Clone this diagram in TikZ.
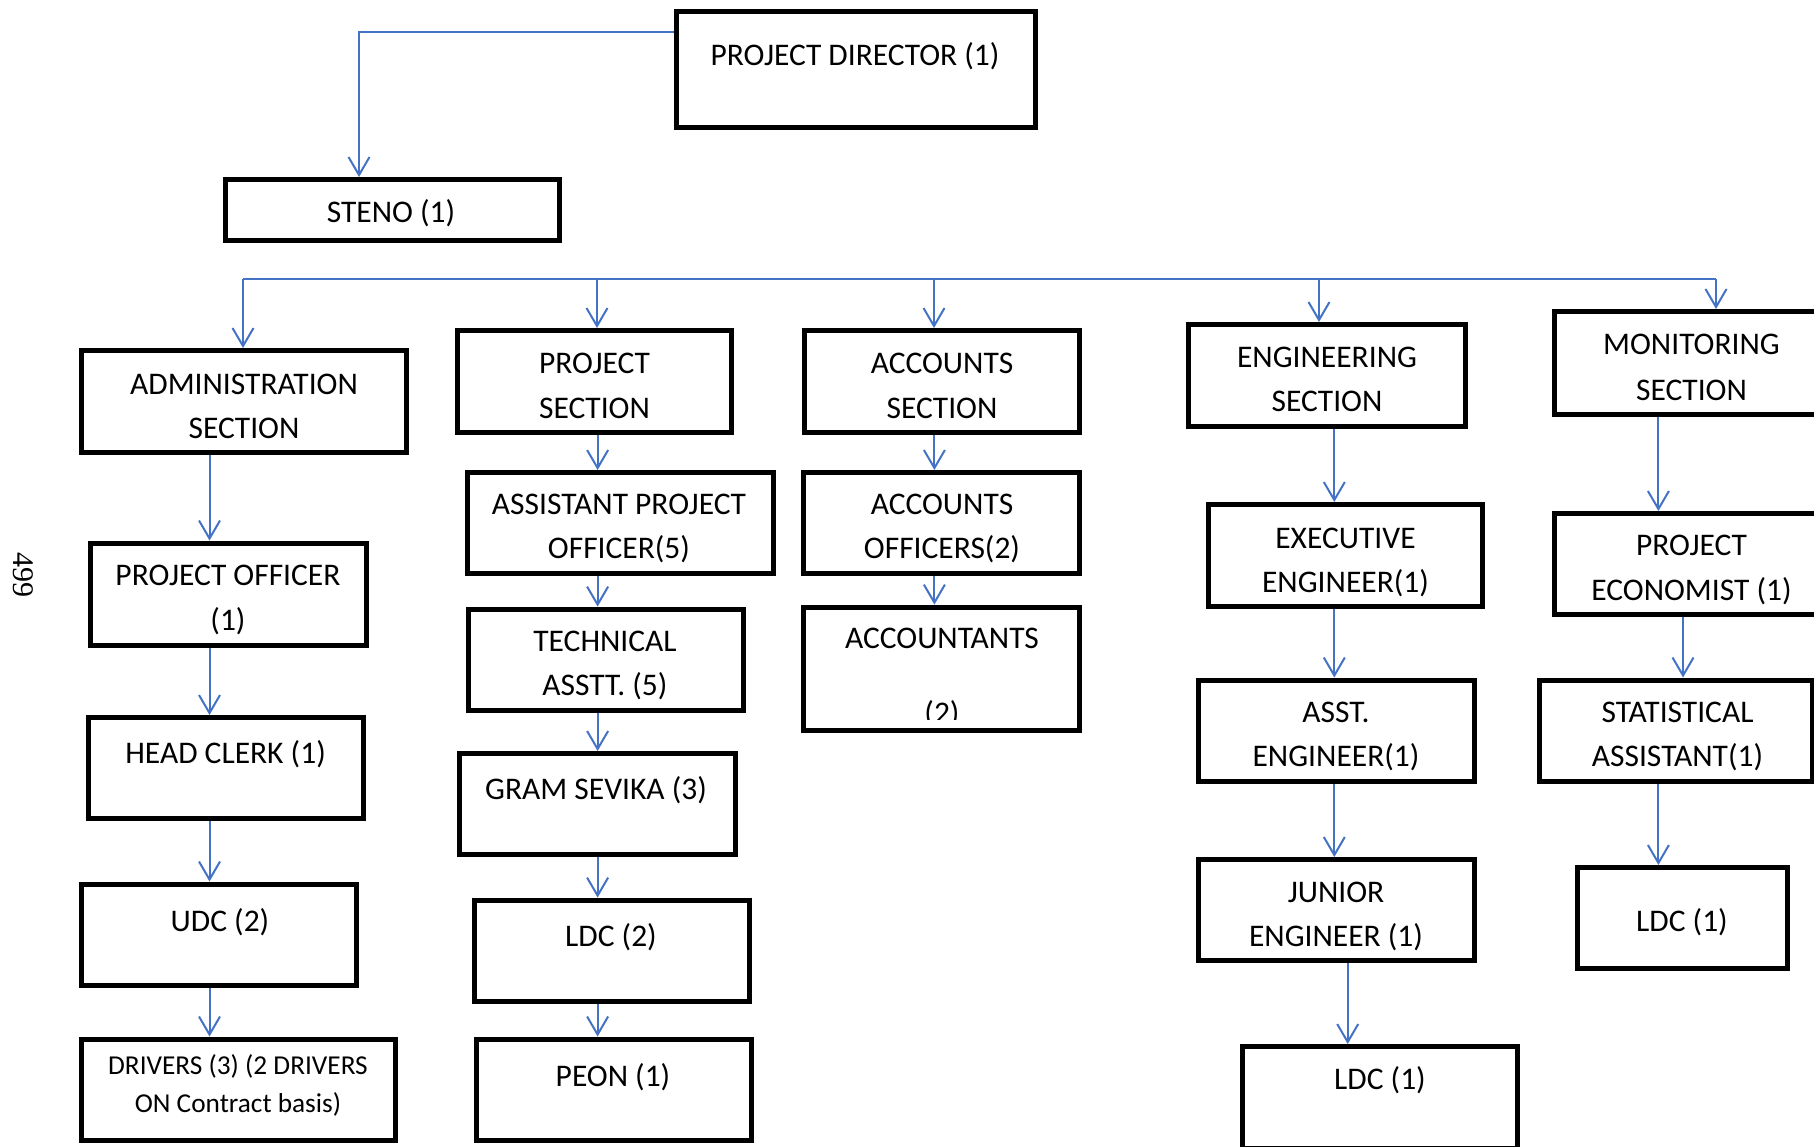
\documentclass[tikz,border=0pt]{standalone}
\usepackage{fontspec}
\setmainfont{Carlito}
\newfontfamily\pagenumfont{Liberation Serif}
\usetikzlibrary{arrows.meta}
\definecolor{linkblue}{RGB}{68,114,196}
\tikzset{
  box/.style={draw=black, line width=5pt, inner sep=0pt},
  lbl/.style={inner sep=0pt, text height=20pt, text depth=0pt, font=\fontsize{31.5}{38}\selectfont},
  smalllbl/.style={inner sep=0pt, text height=17.5pt, text depth=0pt, font=\fontsize{27.3}{33}\selectfont},
  link/.style={draw=linkblue, line width=2pt, -{Straight Barb[length=18pt,width=21pt]}},
  plainlink/.style={draw=linkblue, line width=2.2pt},
}
\newcommand\orgbox[5]{\node[box, minimum width=#4pt-5pt, minimum height=#5pt-5pt] (#1) at (#2,#3) {};}
\begin{document}
\begin{tikzpicture}[x=1pt,y=-1pt]
\useasboundingbox (0,0) rectangle (1814,1147);
\clip (0,0) rectangle (1814,1147);
\fill[white] (0,0) rectangle (1814,1147);

% page number
\node[font=\pagenumfont\fontsize{30}{36}\selectfont, rotate=-90, inner sep=0pt] (pagenum) at (23,575) {499};

% boxes: name, centre x, centre y, outer width, outer height
\orgbox{pd}{856}{69.5}{364}{121}
\orgbox{steno}{392.5}{210}{339}{66}
\orgbox{adm}{244}{401.5}{330}{107}
\orgbox{prj}{594.5}{381.5}{279}{107}
\orgbox{acs}{942}{381.5}{280}{107}
\orgbox{eng}{1327}{375.5}{282}{107}
\orgbox{mon}{1691.5}{363}{279}{108}
% administration column
\orgbox{po}{228.25}{594}{280.5}{107}
\orgbox{hc}{226}{768}{280}{106}
\orgbox{udc}{219}{934.75}{280}{106.5}
\orgbox{drv}{238.5}{1089.75}{319}{106.5}
% project column
\orgbox{apo}{620.5}{523}{311}{106}
\orgbox{ta}{606}{659.6}{280}{106}
\orgbox{gs}{597.3}{804}{280.6}{106}
\orgbox{ldcp}{612}{950.8}{280}{106.4}
\orgbox{peon}{614}{1089.75}{280}{106.5}
% accounts column
\orgbox{ao}{941.5}{523}{281}{106}
\orgbox{acc}{941.5}{668.8}{281}{128.4}
% engineering column
\orgbox{ee}{1345.25}{555.25}{279.5}{106.5}
\orgbox{ae}{1336.5}{730.75}{281}{106.5}
\orgbox{je}{1336.5}{910}{281}{106}
\orgbox{ldce}{1380}{1097.5}{280}{107}
% monitoring column
\orgbox{pe}{1691.5}{564}{279}{106}
\orgbox{sa}{1676}{730.75}{278}{106.5}
\orgbox{ldcm}{1682.25}{918}{215.5}{106}

% labels
\node[lbl] (t-pd) at (855,55.5) {PROJECT DIRECTOR (1)};
\node[lbl] (t-steno) at (391,213) {STENO (1)};
\node[lbl] (t-adm1) at (244,384) {ADMINISTRATION};
\node[lbl] (t-adm2) at (244,428) {SECTION};
\node[lbl] (t-prj1) at (594.5,363) {PROJECT};
\node[lbl] (t-prj2) at (594.5,408.5) {SECTION};
\node[lbl] (t-acs1) at (942,363) {ACCOUNTS};
\node[lbl] (t-acs2) at (942,408.5) {SECTION};
\node[lbl] (t-eng1) at (1327,357.5) {ENGINEERING};
\node[lbl] (t-eng2) at (1327,401.5) {SECTION};
\node[lbl] (t-mon1) at (1691.5,345) {MONITORING};
\node[lbl] (t-mon2) at (1691.5,390) {SECTION};
\node[lbl] (t-po1) at (228,575) {PROJECT OFFICER};
\node[lbl] (t-po2) at (228,620) {(1)};
\node[lbl] (t-hc) at (225.6,753) {HEAD CLERK (1)};
\node[lbl] (t-udc) at (220,921) {UDC (2)};
\node[smalllbl] (t-drv1) at (238,1065.5) {DRIVERS (3) (2 DRIVERS};
\node[smalllbl] (t-drv2) at (238,1104) {ON Contract basis)};
\node[lbl] (t-apo1) at (619,504.5) {ASSISTANT PROJECT};
\node[lbl] (t-apo2) at (619,548.5) {OFFICER(5)};
\node[lbl] (t-ta1) at (605,641) {TECHNICAL};
\node[lbl] (t-ta2) at (605,685) {ASSTT. (5)};
\node[lbl] (t-gs) at (596,789) {GRAM SEVIKA (3)};
\node[lbl] (t-ldcp) at (611,936) {LDC (2)};
\node[lbl] (t-peon) at (613,1076) {PEON (1)};
\node[lbl] (t-ao1) at (942,504.5) {ACCOUNTS};
\node[lbl] (t-ao2) at (942,548.5) {OFFICERS(2)};
\node[lbl] (t-acc1) at (942,638.6) {ACCOUNTANTS};
% the second line runs past the text area and is cut off
\begin{scope}
  \clip (801,604) rectangle (1082,719);
  \node[lbl] (t-acc2) at (942,713) {(2)};
\end{scope}
\node[lbl] (t-ee1) at (1345.5,538) {EXECUTIVE};
\node[lbl] (t-ee2) at (1345.5,582) {ENGINEER(1)};
\node[lbl] (t-ae1) at (1336,712.7) {ASST.};
\node[lbl] (t-ae2) at (1336,756.6) {ENGINEER(1)};
\node[lbl] (t-je1) at (1336,892) {JUNIOR};
\node[lbl] (t-je2) at (1336,936) {ENGINEER (1)};
\node[lbl] (t-ldce) at (1380,1079) {LDC (1)};
\node[lbl] (t-pe1) at (1691.5,545) {PROJECT};
\node[lbl] (t-pe2) at (1691.5,590) {ECONOMIST (1)};
\node[lbl] (t-sa1) at (1677.5,712.7) {STATISTICAL};
\node[lbl] (t-sa2) at (1677.5,756.6) {ASSISTANT(1)};
\node[lbl] (t-ldcm) at (1682,921) {LDC (1)};

% connector columns
\coordinate (k) at (359,32.5);
\coordinate (b1) at (243,279);
\coordinate (b2) at (597,279);
\coordinate (b3) at (934,279);
\coordinate (b4) at (1319,279);
\coordinate (b5) at (1716,279);
\coordinate (xa) at (209.5,0);
\coordinate (xp) at (597.6,0);
\coordinate (xc) at (934.4,0);
\coordinate (xe) at (1334.3,0);
\coordinate (xj) at (1347.7,0);
\coordinate (xm) at (1658.4,0);
\coordinate (xs) at (1683,0);

% director to steno
\draw[link] (pd.west |- k) -- (k) -- (steno.north -| k);

% section bus
\draw[plainlink] (b1) -- (b5);
\draw[link] (b1) -- (adm.north -| b1);
\draw[link] (b2) -- (prj.north -| b2);
\draw[link] (b3) -- (acs.north -| b3);
\draw[link] (b4) -- (eng.north -| b4);
\draw[link] (b5) -- (mon.north -| b5);

% administration chain
\draw[link] (adm.south -| xa) -- (po.north -| xa);
\draw[link] (po.south -| xa) -- (hc.north -| xa);
\draw[link] (hc.south -| xa) -- (udc.north -| xa);
\draw[link] (udc.south -| xa) -- (drv.north -| xa);

% project chain
\draw[link] (prj.south -| xp) -- (apo.north -| xp);
\draw[link] (apo.south -| xp) -- (ta.north -| xp);
\draw[link] (ta.south -| xp) -- (gs.north -| xp);
\draw[link] (gs.south -| xp) -- (ldcp.north -| xp);
\draw[link] (ldcp.south -| xp) -- (peon.north -| xp);

% accounts chain
\draw[link] (acs.south -| xc) -- (ao.north -| xc);
\draw[link] (ao.south -| xc) -- (acc.north -| xc);

% engineering chain
\draw[link] (eng.south -| xe) -- (ee.north -| xe);
\draw[link] (ee.south -| xe) -- (ae.north -| xe);
\draw[link] (ae.south -| xe) -- (je.north -| xe);
\draw[link] (je.south -| xj) -- (ldce.north -| xj);

% monitoring chain
\draw[link] (mon.south -| xm) -- (pe.north -| xm);
\draw[link] (pe.south -| xs) -- (sa.north -| xs);
\draw[link] (sa.south -| xm) -- (ldcm.north -| xm);
\end{tikzpicture}
\end{document}
